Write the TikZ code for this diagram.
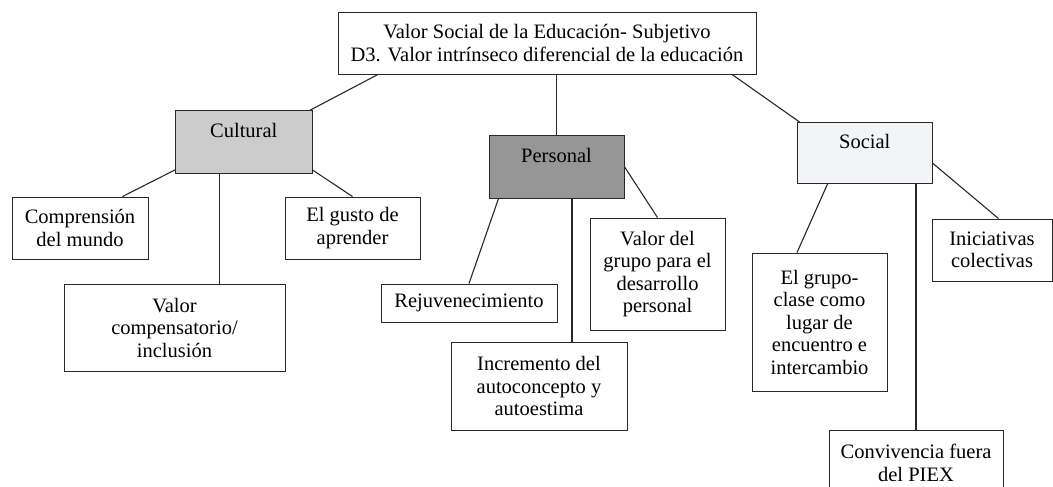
\documentclass[tikz,border=0pt]{standalone}
\usepackage{fontspec}
\setmainfont{Liberation Serif}
\usetikzlibrary{calc}
\definecolor{culfill}{RGB}{204,204,204}
\definecolor{perfill}{RGB}{150,150,150}
\definecolor{socfill}{RGB}{243,244,247}
\definecolor{edge}{RGB}{40,40,40}
\begin{document}
\begin{tikzpicture}[x=1pt,y=-1pt,
  box/.style={draw=edge, line width=0.9pt, fill=white, align=center, inner sep=0pt,
    font=\fontsize{20.5}{22.5}\selectfont, text=black},
  catbox/.style={box, anchor=north},
  conn/.style={draw=edge, line width=1.1pt}]
\useasboundingbox (0,0) rectangle (1053,487);
\clip (0,0) rectangle (1053,487);
% top
\node[box, minimum width=418pt, minimum height=62pt] (top) at (547,43)
  {Valor Social de la Educación- Subjetivo\\D3. Valor intrínseco diferencial de la educación};
% categories
\node[catbox, fill=culfill, minimum width=136.5pt, text height=27.5pt, text depth=35.5pt] (cult) at (243.75,110) {Cultural};
\node[catbox, fill=perfill, minimum width=135pt, text height=27.5pt, text depth=35pt] (pers) at (556.5,135) {Personal};
\node[catbox, fill=socfill, minimum width=135.5pt, text height=26.5pt, text depth=34.5pt] (soc) at (864.75,122) {Social};
% cultural children
\node[box, minimum width=136pt, minimum height=62pt] (comp) at (80,228) {Comprensión\\del mundo};
\node[box, minimum width=221pt, minimum height=87pt] (valcomp) at (174.5,327.5) {Valor\\compensatorio/\\inclusión};
\node[box, minimum width=135pt, minimum height=62pt] (gusto) at (352.5,228) {El gusto de\\aprender};
% personal children
\node[box, minimum width=176pt, minimum height=38pt] (rej) at (469,303) {Rejuvenecimiento};
\node[box, minimum width=176pt, minimum height=88pt] (incr) at (539,386) {Incremento del\\autoconcepto y\\autoestima};
\node[box, minimum width=135pt, minimum height=112pt] (vg) at (657.5,274) {Valor del\\grupo para el\\desarrollo\\personal};
% social children
\node[box, minimum width=135pt, minimum height=138pt] (grupo) at (819.5,322) {El grupo-\\clase como\\lugar de\\encuentro e\\intercambio};
\node[box, minimum width=120pt, minimum height=62pt] (inic) at (992,250) {Iniciativas\\colectivas};
\node[box, minimum width=174pt, minimum height=66pt] (conv) at (916,463) {Convivencia fuera\\del PIEX};
% connectors
\draw[conn] ([xshift=-169pt]top.south) -- ([xshift=-2pt]cult.north east);
\draw[conn] (pers.north) -- (pers.north |- top.south);
\draw[conn] ([xshift=185pt]top.south) -- ([xshift=3pt]soc.north west);
\draw[conn] ([yshift=4pt]cult.south west) -- ([xshift=-26pt]comp.north east);
\coordinate (c1) at ([xshift=-24.5pt]cult.south);
\draw[conn] (c1) -- (c1 |- valcomp.north);
\draw[conn] ([yshift=4pt]cult.south east) -- (gusto.north);
\draw[conn] ([xshift=10pt]pers.south west) -- (rej.north);
\coordinate (p1) at ([xshift=15.5pt]pers.south);
\draw[conn] (p1) -- (p1 |- incr.north);
\draw[conn] (pers.east) -- (vg.north);
\draw[conn] ([xshift=31pt]soc.south west) -- ([xshift=-22.5pt]grupo.north);
\draw[conn] (conv.north |- soc.south) -- (conv.north);
\draw[conn] ([yshift=-10.5pt]soc.east) -- ([xshift=6.5pt]inic.north);
\end{tikzpicture}
\end{document}
